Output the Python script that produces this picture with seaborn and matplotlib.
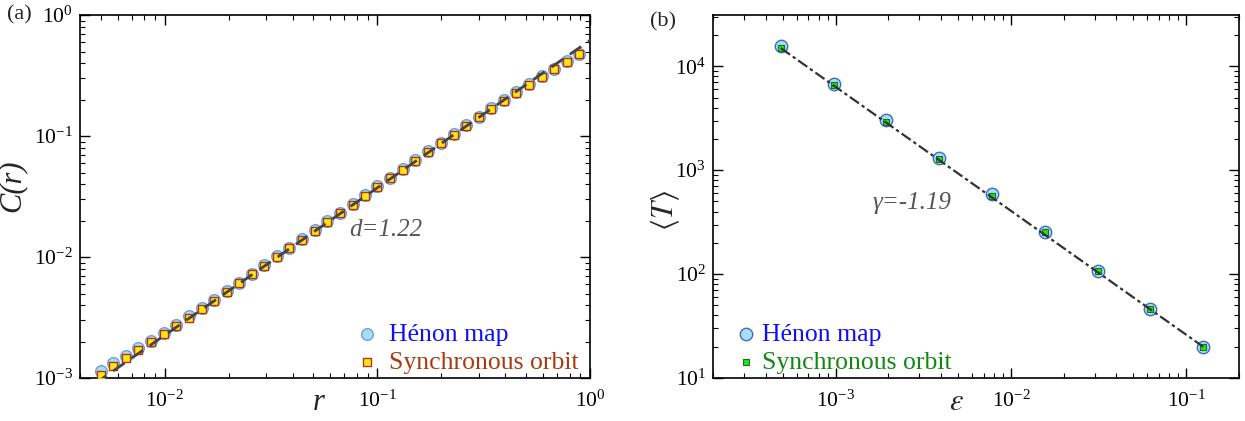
import numpy as np
import pandas as pd
import matplotlib
matplotlib.use("Agg")
import matplotlib.pyplot as plt
import seaborn as sns

# --- panel (a): correlation sum C(r) ---
r_vals = [0.0050, 0.00573, 0.00656, 0.00752, 0.00862, 0.00988, 0.0113, 0.0130,
          0.0149, 0.0171, 0.0196, 0.0224, 0.0257, 0.0294, 0.0337, 0.0386,
          0.0443, 0.0508, 0.0582, 0.0667, 0.0764, 0.0876, 0.100, 0.115,
          0.132, 0.151, 0.173, 0.199, 0.228, 0.261, 0.299, 0.343,
          0.393, 0.450, 0.515, 0.591, 0.677, 0.776, 0.889]
c_henon = [0.00115, 0.00132, 0.00153, 0.00176, 0.00204, 0.00238, 0.00277, 0.00324,
           0.00378, 0.00442, 0.00521, 0.00615, 0.00726, 0.00859, 0.01014, 0.01197,
           0.01413, 0.0167, 0.0197, 0.0233, 0.0275, 0.0324, 0.0384, 0.0453,
           0.0535, 0.0631, 0.0748, 0.0883, 0.104, 0.123, 0.145, 0.170,
           0.198, 0.231, 0.270, 0.312, 0.360, 0.415, 0.479]
c_sync = [0.00107, 0.00125, 0.00146, 0.00170, 0.00199, 0.00232, 0.00271, 0.00316,
          0.00374, 0.00437, 0.00515, 0.00608, 0.00718, 0.00849, 0.01002, 0.01183,
          0.01396, 0.0165, 0.0195, 0.0230, 0.0272, 0.0321, 0.0379, 0.0448,
          0.0528, 0.0624, 0.0740, 0.0873, 0.103, 0.122, 0.143, 0.168,
          0.196, 0.229, 0.267, 0.308, 0.356, 0.410, 0.473]
fit_a_r = [0.0047, 1.0]
fit_a_c = [0.00090, 0.62]

# --- panel (b): mean transient time <T> vs epsilon ---
eps_vals = [0.000488, 0.000977, 0.00195, 0.00391, 0.00781, 0.0156, 0.03125, 0.0625, 0.125]
t_henon = [15500, 6780, 3010, 1315, 588, 257, 108, 46.6, 20.0]
t_sync = [14860, 6530, 2920, 1276, 570, 257, 106, 45.8, 19.9]
fit_b_eps = [0.000488, 0.125]
fit_b_t = [14900, 20.0]

sns.set_style("ticks")
plt.rcParams['font.family'] = ['Liberation Serif', 'DejaVu Serif']
plt.rcParams['mathtext.fontset'] = 'stix'

fig = plt.figure(figsize=(12.45, 4.21), dpi=100)
ax_a = fig.add_axes([0.0643, 0.102, 0.4097, 0.862])
ax_b = fig.add_axes([0.5727, 0.102, 0.4225, 0.862])


def style_axis(ax):
    ax.set_xscale("log")
    ax.set_yscale("log")
    ax.tick_params(which="both", direction="in", top=True, right=True,
                   labelsize=15.5, colors="black")
    ax.tick_params(which="major", length=7, width=1)
    ax.tick_params(which="minor", length=3.5, width=0.8)
    ax.tick_params(axis="x", pad=9)
    ax.tick_params(axis="y", pad=5)
    for sp in ax.spines.values():
        sp.set_visible(True)
        sp.set_linewidth(1.2)
        sp.set_color("black")


# (a)
df_a = pd.DataFrame({"r": r_vals, "henon": c_henon, "sync": c_sync})
sns.scatterplot(data=df_a, x="r", y="henon", ax=ax_a, marker="o", s=70,
                color="#a9dcf7", edgecolor="#6a9fe0", linewidth=1.0,
                label="Hénon map", zorder=2)
sns.scatterplot(data=df_a, x="r", y="sync", ax=ax_a, marker="s", s=26,
                color="#ffe81a", edgecolor="#b5360c", linewidth=1.0,
                label="Synchronous orbit", zorder=3)
sns.lineplot(x=fit_a_r, y=fit_a_c, ax=ax_a, color="#444444", lw=2.0, zorder=4)
ax_a.lines[-1].set_dashes([5, 3])
style_axis(ax_a)
ax_a.set_xlim(0.004, 1.0)
ax_a.set_ylim(1e-3, 1.0)
ax_a.set_xlabel("r", fontsize=22, style="italic")
ax_a.xaxis.set_label_coords(0.467, -0.028)
ax_a.set_ylabel("C(r)", fontsize=22, style="italic")
ax_a.yaxis.set_label_coords(-0.104, 0.53)
ax_a.text(0.074, 0.0167, "d=1.22", fontsize=18, style="italic",
          color="#555555", va="center", ha="left")
leg_a = ax_a.legend(loc="lower left", bbox_to_anchor=(0.533, 0.004), frameon=False,
                    fontsize=18.5, handlelength=1.0, handletextpad=0.36,
                    borderpad=0.1, borderaxespad=0.0, labelspacing=0.2)
leg_a.get_texts()[0].set_color("#1010ee")
leg_a.get_texts()[1].set_color("#a83a10")

# (b)
df_b = pd.DataFrame({"eps": eps_vals, "henon": t_henon, "sync": t_sync})
sns.scatterplot(data=df_b, x="eps", y="henon", ax=ax_b, marker="o", s=80,
                color="#a9dcf7", edgecolor="#3d6fc0", linewidth=1.0,
                label="Hénon map", zorder=2)
sns.scatterplot(data=df_b, x="eps", y="sync", ax=ax_b, marker="s", s=22,
                color="#2fd82f", edgecolor="#137a13", linewidth=0.8,
                label="Synchronous orbit", zorder=3)
sns.lineplot(x=fit_b_eps, y=fit_b_t, ax=ax_b, color="#333333", lw=1.6, zorder=4)
ax_b.lines[-1].set_dashes([5, 1.5, 1.5, 1.5])
style_axis(ax_b)
ax_b.set_xlim(2e-4, 0.2)
ax_b.set_ylim(10, 3.1e4)
ax_b.set_xlabel(r"$\epsilon$", fontsize=22)
ax_b.xaxis.set_label_coords(0.462, -0.028)
ax_b.set_ylabel(r"$\langle T\rangle$", fontsize=22)
ax_b.yaxis.set_label_coords(-0.059, 0.463)
ax_b.text(0.00162, 486, "γ=-1.19", fontsize=18, style="italic",
          color="#555555", va="center", ha="left")
leg_b = ax_b.legend(loc="lower left", bbox_to_anchor=(0.033, 0.004), frameon=False,
                    fontsize=18.5, handlelength=1.0, handletextpad=0.12,
                    borderpad=0.1, borderaxespad=0.0, labelspacing=0.2)
leg_b.get_texts()[0].set_color("#1010ee")
leg_b.get_texts()[1].set_color("#118811")

fig.text(0.006, 0.965, "(a)", fontsize=16, va="center", ha="left")
fig.text(0.522, 0.948, "(b)", fontsize=16, va="center", ha="left")

fig.savefig("out.png", dpi=100)
